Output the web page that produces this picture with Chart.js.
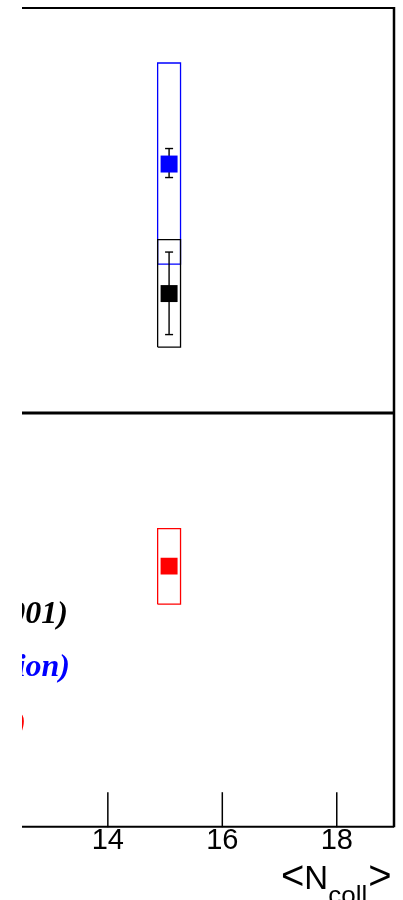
<!DOCTYPE html>
<html>
<head>
<meta charset="utf-8">
<script src="https://cdn.jsdelivr.net/npm/chart.js@4"></script>
<style>
html,body{margin:0;padding:0;background:#fff;}
canvas{display:block;}
</style>
</head>
<body>
<canvas id="c" width="403" height="900"></canvas>
<script>
// ---- data (y in arbitrary panel units) ----
const seriesNames = ['Au+Au (2001)', 'Au+Au (extrapolation)', 'Cu+Cu (2005)'];
const seriesColors = ['#000000', '#0000ff', '#ff0000'];
const seriesPanel = ['top', 'top', 'bottom'];
const xNcoll = [15.07, 15.07, 15.07];
const xSysHalfWidth = [0.2, 0.2, 0.2];
const yValue = [2.39, 4.98, 5.22];
const yStatLow = [1.57, 4.71, null];
const yStatHigh = [3.22, 5.29, null];
const ySysLow = [1.32, 2.98, 4.46];
const ySysHigh = [3.47, 7.00, 5.97];
const xTickValues = [14, 16, 18];
const xRange = [12.5, 19];
const yTopRange = [0, 8.12];
const yBottomRange = [0, 8.28];

// ---- build datasets ----
const datasets = [];
for (let i = 0; i < xNcoll.length; i++) {
  const yId = seriesPanel[i] === 'top' ? 'yTop' : 'yBot';
  const c = seriesColors[i];
  // marker
  datasets.push({
    label: seriesNames[i], yAxisID: yId, order: 0,
    data: [{x: xNcoll[i], y: yValue[i]}],
    pointStyle: 'rect', pointRadius: 12, pointBorderWidth: 0,
    backgroundColor: c, borderColor: c, showLine: false
  });
  // stat error bar
  if (yStatLow[i] !== null) {
    datasets.push({
      label: seriesNames[i] + ' stat', yAxisID: yId, order: 1,
      data: [{x: xNcoll[i], y: yStatLow[i]}, {x: xNcoll[i], y: yStatHigh[i]}],
      showLine: true, borderColor: '#000', borderWidth: 1.4,
      pointStyle: 'line', pointRadius: 4, pointBorderWidth: 1.4,
      pointBorderColor: '#000', backgroundColor: '#000', fill: false
    });
  }
  // systematic box
  const x0 = xNcoll[i] - xSysHalfWidth[i], x1 = xNcoll[i] + xSysHalfWidth[i];
  datasets.push({
    label: seriesNames[i] + ' sys', yAxisID: yId, order: 2,
    data: [{x: x0, y: ySysLow[i]}, {x: x1, y: ySysLow[i]}, {x: x1, y: ySysHigh[i]},
           {x: x0, y: ySysHigh[i]}, {x: x0, y: ySysLow[i]}],
    showLine: true, borderColor: c, borderWidth: 1.3, pointRadius: 0,
    fill: false, tension: 0
  });
}

const framePlugin = {
  id: 'frame',
  afterDatasetsDraw(chart) {
    const {ctx, chartArea: a, scales} = chart;
    ctx.save();
    ctx.strokeStyle = '#000';
    ctx.lineCap = 'butt';
    // top line
    ctx.lineWidth = 2;
    ctx.beginPath(); ctx.moveTo(a.left, scales.yTop.top + 1); ctx.lineTo(a.right, scales.yTop.top + 1); ctx.stroke();
    // right line
    ctx.lineWidth = 2.5;
    ctx.beginPath(); ctx.moveTo(a.right, a.top); ctx.lineTo(a.right, a.bottom); ctx.stroke();
    // separator
    ctx.lineWidth = 3;
    ctx.beginPath(); ctx.moveTo(a.left, scales.yBot.top); ctx.lineTo(a.right, scales.yBot.top); ctx.stroke();
    // bottom axis
    ctx.lineWidth = 2;
    ctx.beginPath(); ctx.moveTo(a.left, a.bottom - 0.5); ctx.lineTo(a.right, a.bottom - 0.5); ctx.stroke();
    // ticks (inward)
    ctx.lineWidth = 1.5;
    for (const t of scales.x.ticks) {
      const px = scales.x.getPixelForValue(t.value);
      ctx.beginPath(); ctx.moveTo(px, a.bottom); ctx.lineTo(px, a.bottom - 35); ctx.stroke();
    }
    // legend texts, clipped at the plot's left edge
    ctx.save();
    ctx.beginPath(); ctx.rect(a.left, 0, chart.width, chart.height); ctx.clip();
    ctx.font = 'bold italic 32px "Liberation Serif"';
    ctx.textAlign = 'right';
    ctx.textBaseline = 'alphabetic';
    const legendPos = [[68, 623], [70, 676], [26, 733]];
    for (let i = 0; i < seriesNames.length; i++) {
      ctx.fillStyle = seriesColors[i];
      ctx.fillText(seriesNames[i], legendPos[i][0], legendPos[i][1]);
    }
    ctx.restore();
    // axis title <N_coll>
    ctx.fillStyle = '#000';
    ctx.textAlign = 'left';
    ctx.textBaseline = 'alphabetic';
    let x = 281;
    const base = 889;
    ctx.font = '40px "Liberation Sans"';
    ctx.fillText('<', x, base); x += ctx.measureText('<').width;
    ctx.font = '33px "Liberation Sans"';
    ctx.fillText('N', x, base); x += ctx.measureText('N').width;
    ctx.font = '26px "Liberation Sans"';
    ctx.fillText('coll', x, 903.6); x += ctx.measureText('coll').width + 1;
    ctx.font = '40px "Liberation Sans"';
    ctx.fillText('>', x, base);
    ctx.restore();
  }
};

new Chart(document.getElementById('c'), {
  type: 'scatter',
  data: {datasets},
  options: {
    responsive: false,
    animation: false,
    events: [],
    devicePixelRatio: 1,
    layout: {autoPadding: false, padding: {left: 22, right: 9, top: 7, bottom: 46}},
    plugins: {legend: {display: false}, tooltip: {enabled: false}},
    scales: {
      x: {
        type: 'linear', min: xRange[0], max: xRange[1],
        afterBuildTicks: s => { s.ticks = xTickValues.map(v => ({value: v})); },
        grid: {display: false, drawTicks: false},
        border: {display: false},
        ticks: {color: '#000', font: {family: '"Liberation Sans"', size: 29}, padding: -4,
                maxRotation: 0, autoSkip: false}
      },
      yTop: {
        type: 'linear', position: 'left', stack: 'panels', stackWeight: 406, weight: 2,
        min: yTopRange[0], max: yTopRange[1],
        grid: {display: false, drawTicks: false}, border: {display: false}, ticks: {display: false}
      },
      yBot: {
        type: 'linear', position: 'left', stack: 'panels', stackWeight: 414, weight: 1,
        min: yBottomRange[0], max: yBottomRange[1],
        grid: {display: false, drawTicks: false}, border: {display: false}, ticks: {display: false}
      }
    }
  },
  plugins: [framePlugin]
});
</script>
</body>
</html>
